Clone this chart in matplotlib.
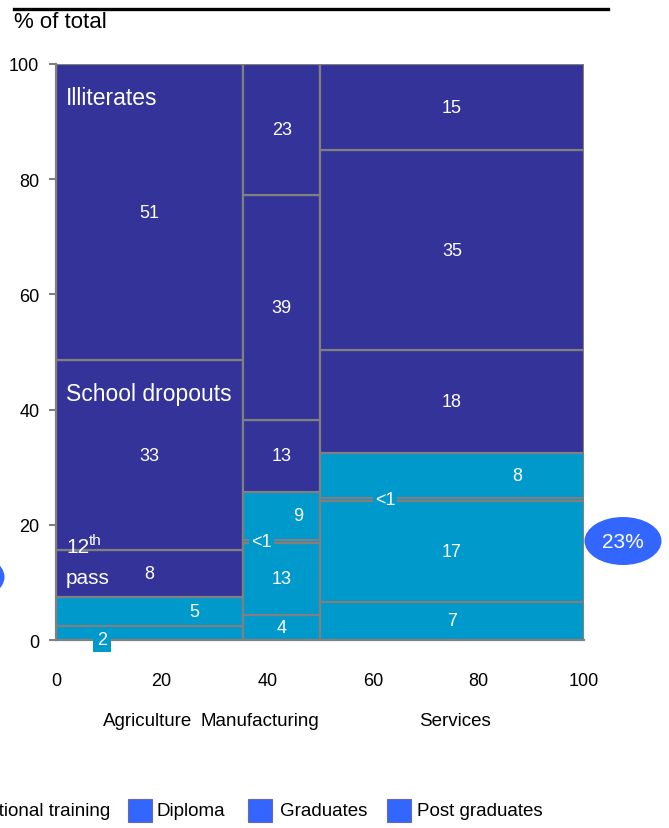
import matplotlib
matplotlib.use('Agg')
import matplotlib.pyplot as plt
from matplotlib.patches import Rectangle, Ellipse
from matplotlib.lines import Line2D

# --- data -------------------------------------------------------------
sectors = ['Agriculture', 'Manufacturing', 'Services']
sector_share = [35.5, 14.5, 50.0]          # width of each column, % of workforce

# education groups, bottom -> top
groups = ['Post graduates', 'Graduates', 'Diploma', 'Vocational training',
          '12th pass', 'School dropouts', 'Illiterates']

agriculture = [2.4, 5.1, 0.0, 0.0, 8.1, 33.0, 51.4]
manufacturing = [4.3, 12.6, 0.5, 8.3, 12.5, 39.1, 22.7]
services = [6.6, 17.5, 0.5, 7.9, 17.8, 34.7, 15.0]

agriculture_labels = ['2', '5', '', '', '8', '33', '51']
manufacturing_labels = ['4', '13', '<1', '9', '13', '39', '23']
services_labels = ['7', '17', '<1', '8', '18', '35', '15']

bubble_text = '23%'
legend_groups = ['Vocational training', 'Diploma', 'Graduates', 'Post graduates']

# --- style ------------------------------------------------------------
NAVY = '#333399'
CYAN = '#0099CC'
BLUE = '#3366FF'
GREY = '#808080'
plt.rcParams['font.family'] = ['Liberation Sans', 'DejaVu Sans']

group_colors = [CYAN, CYAN, CYAN, CYAN, NAVY, NAVY, NAVY]

# where a label sits across its column (fraction of width), default centre
label_xfrac = {
    ('Agriculture', 'Post graduates'): 0.245,
    ('Agriculture', 'Graduates'): 0.74,
    ('Manufacturing', 'Diploma'): 0.24,
    ('Manufacturing', 'Vocational training'): 0.72,
    ('Services', 'Diploma'): 0.246,
    ('Services', 'Vocational training'): 0.746,
}

W, H = 669, 829
fig = plt.figure(figsize=(W / 100, H / 100), dpi=100)
ax = fig.add_axes([56 / W, 1 - 641 / H, 528 / W, 576 / H])

columns = [agriculture, manufacturing, services]
col_labels = [agriculture_labels, manufacturing_labels, services_labels]

left = 0.0
for sector, width, values, labels in zip(sectors, sector_share, columns, col_labels):
    bottom = 0.0
    for g, v, lab, c in zip(groups, values, labels, group_colors):
        if v > 0:
            ax.bar(left, v, width=width, bottom=bottom, align='edge',
                   color=c, edgecolor=GREY, linewidth=1.6, zorder=2)
        if lab:
            xf = label_xfrac.get((sector, g), 0.5)
            tx = left + xf * width
            ty = bottom + v / 2
            kw = {}
            if lab == '<1':
                kw['bbox'] = dict(boxstyle='square,pad=0.12', fc=CYAN, ec='none')
            if sector == 'Agriculture' and g == 'Post graduates':
                ty = bottom + 0.1
                kw['bbox'] = dict(boxstyle='square,pad=0.2', fc=CYAN, ec='none')
            ax.text(tx, ty, lab, color='white', ha='center', va='center',
                    fontsize=13, zorder=4, clip_on=False, **kw)
        bottom += v
    left += width

# group names written inside the agriculture column
ax.text(1.9, 94.2, 'Illiterates', color='white', fontsize=16.5, va='center', ha='left', zorder=4)
ax.text(1.9, 42.8, 'School dropouts', color='white', fontsize=16.5, va='center', ha='left', zorder=4)
ax.text(1.9, 16.3, '12', color='white', fontsize=15, va='center', ha='left', zorder=4)
ax.text(6.3, 17.4, 'th', color='white', fontsize=11, va='center', ha='left', zorder=4)
ax.text(1.9, 10.9, 'pass', color='white', fontsize=15, va='center', ha='left', zorder=4)

ax.set_xlim(0, 100)
ax.set_ylim(0, 100)
ax.set_xticks([0, 20, 40, 60, 80, 100])
ax.set_yticks([0, 20, 40, 60, 80, 100])
ax.tick_params(axis='y', direction='out', length=5, width=1.5, color=GREY,
               labelsize=13, pad=7)
ax.tick_params(axis='x', length=0, labelsize=13, pad=23)
for s in ['top', 'right']:
    ax.spines[s].set_visible(False)
for s in ['left', 'bottom']:
    ax.spines[s].set_color(GREY)
    ax.spines[s].set_linewidth(1.6)

# sector names under the axis
sector_label_x = [148, 260, 455]
for name, px in zip(sectors, sector_label_x):
    fig.text(px / W, 1 - 722 / H, name, ha='center', va='center', fontsize=13.5)

# header
fig.add_artist(Line2D([14 / W, 608 / W], [1 - 10 / H, 1 - 10 / H],
                      color='black', linewidth=2.4, transform=fig.transFigure))
fig.text(14 / W, 1 - 22 / H, '% of total', ha='left', va='center', fontsize=16)

# callout bubbles
fig.add_artist(Ellipse((623 / W, 1 - 542 / H), 77 / W, 48 / H, fc=BLUE, ec='none',
                       transform=fig.transFigure))
fig.text(623 / W, 1 - 542 / H, bubble_text, color='white', ha='center', va='center',
         fontsize=15)
fig.add_artist(Ellipse((-34 / W, 1 - 578 / H), 77 / W, 48 / H, fc=BLUE, ec='none',
                       transform=fig.transFigure))

# legend (cut off on the left in the original)
legend_y = 1 - 812 / H
fig.text(110 / W, legend_y, legend_groups[0], ha='right', va='center', fontsize=13.5)
for name, sq_x, txt_x in zip(legend_groups[1:], [128, 248, 387], [157, 280, 417]):
    fig.add_artist(Rectangle((sq_x / W, 1 - 823 / H), 24 / W, 23 / H, fc=BLUE,
                             ec='#6a6aa0', linewidth=0.8, transform=fig.transFigure))
    fig.text(txt_x / W, legend_y, name, ha='left', va='center', fontsize=13.5)

fig.savefig('out.png', dpi=100)
